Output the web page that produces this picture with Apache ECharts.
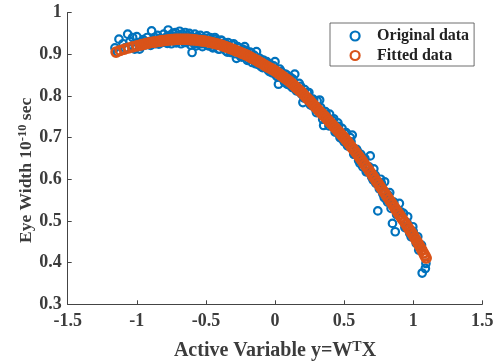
<!DOCTYPE html>
<html>
<head>
<meta charset="utf-8">
<script src="https://cdn.jsdelivr.net/npm/echarts@6/dist/echarts.min.js"></script>
<style>html,body{margin:0;padding:0;background:#fff}#c{width:503px;height:362px}</style>
</head>
<body>
<div id="c"></div>
<script>
const xTicks = [-1.5, -1, -0.5, 0, 0.5, 1, 1.5];
const yTicks = [0.3, 0.4, 0.5, 0.6, 0.7, 0.8, 0.9, 1];

const origX = [-1.158,-1.14,-1.129,-1.10,-1.085,-1.066,-1.05,-1.03,-1.015,-1.0,-0.985,-0.97,-0.954,-0.94,-0.925,-0.91,-0.893,-0.88,-0.865,-0.85,-0.835,-0.82,-0.805,-0.79,-0.773,-0.76,-0.75,-0.74,-0.73,-0.72,-0.71,-0.70,-0.69,-0.68,-0.67,-0.66,-0.65,-0.64,-0.63,-0.62,-0.61,-0.60,-0.59,-0.58,-0.57,-0.56,-0.55,-0.54,-0.525,-0.51,-0.495,-0.48,-0.465,-0.45,-0.435,-0.42,-0.40,-0.385,-0.37,-0.355,-0.34,-0.32,-0.30,-0.279,-0.27,-0.25,-0.235,-0.219,-0.20,-0.18,-0.165,-0.15,-0.134,-0.12,-0.10,-0.085,-0.07,-0.05,-0.035,-0.02,0.0,0.01,0.025,0.045,0.06,0.075,0.09,0.11,0.125,0.143,0.16,0.175,0.19,0.202,0.215,0.23,0.245,0.26,0.275,0.29,0.305,0.323,0.335,0.352,0.365,0.38,0.395,0.41,0.425,0.44,0.455,0.47,0.485,0.50,0.515,0.53,0.545,0.559,0.575,0.59,0.605,0.62,0.635,0.65,0.665,0.689,0.70,0.715,0.73,0.744,0.765,0.78,0.793,0.805,0.815,0.83,0.85,0.87,0.877,0.89,0.90,0.915,0.93,0.945,0.96,0.975,0.997,1.01,1.022,1.033,1.045,1.065,1.088,1.092,
  -0.49,-0.47,-0.455,-0.44,-0.41,-0.39,-0.36,-0.345,-0.31,-0.29,-0.26,-0.24,-0.21,-0.19,-0.17,-0.14,-0.11,-0.09,-0.06,-0.04,-0.01,0.02,0.035,0.07,0.085,0.105,0.13,0.155,0.185,0.21,0.235,0.255,0.28,0.30,0.33,0.345,0.37,0.39,0.415,0.435,0.46,0.48,0.505,0.525,0.55,0.57,0.595,0.615,0.64,0.66,0.68,0.71,0.725,0.755,0.77,0.79,0.82,0.84,0.86,0.88,0.91,0.94,0.955,0.985,1.0,1.04,1.06,
  -0.98,-0.96,-0.90,-0.87,-0.84,-0.78,-0.745,-0.715,-0.655,-0.625,-0.585,-0.545,-0.53];
const origY = [0.915,0.905,0.936,0.925,0.915,0.948,0.930,0.940,0.912,0.942,0.928,0.918,0.935,0.922,0.940,0.930,0.956,0.935,0.925,0.945,0.938,0.928,0.948,0.940,0.958,0.945,0.925,0.950,0.940,0.952,0.930,0.945,0.955,0.925,0.948,0.940,0.952,0.928,0.945,0.950,0.922,0.904,0.940,0.948,0.920,0.942,0.925,0.945,0.918,0.938,0.944,0.920,0.935,0.915,0.940,0.930,0.912,0.932,0.925,0.908,0.928,0.904,0.925,0.890,0.918,0.895,0.912,0.918,0.885,0.905,0.880,0.897,0.906,0.875,0.870,0.886,0.880,0.862,0.876,0.855,0.882,0.848,0.828,0.858,0.840,0.852,0.828,0.845,0.820,0.852,0.818,0.830,0.805,0.784,0.815,0.795,0.808,0.778,0.792,0.770,0.788,0.790,0.760,0.729,0.762,0.742,0.756,0.728,0.745,0.715,0.735,0.700,0.722,0.690,0.712,0.680,0.700,0.706,0.660,0.672,0.645,0.660,0.630,0.650,0.618,0.656,0.605,0.625,0.590,0.524,0.600,0.565,0.594,0.552,0.545,0.568,0.494,0.474,0.530,0.520,0.542,0.505,0.518,0.485,0.510,0.470,0.486,0.458,0.446,0.462,0.440,0.375,0.386,0.398,
  0.921,0.940,0.918,0.936,0.912,0.934,0.927,0.905,0.922,0.901,0.915,0.893,0.909,0.887,0.902,0.877,0.890,0.868,0.882,0.858,0.872,0.845,0.864,0.832,0.850,0.826,0.840,0.812,0.823,0.795,0.808,0.779,0.790,0.760,0.772,0.744,0.756,0.728,0.741,0.713,0.727,0.698,0.710,0.680,0.690,0.660,0.668,0.638,0.648,0.618,0.630,0.598,0.610,0.577,0.590,0.556,0.562,0.530,0.545,0.515,0.522,0.484,0.496,0.462,0.475,0.430,0.442,
  0.912,0.930,0.921,0.940,0.924,0.926,0.944,0.927,0.928,0.941,0.925,0.938,0.925];

const fitX = [-1.15,-1.12,-1.09,-1.06,-1.03,-1.0,-0.975,-0.9625,-0.95,-0.9375,-0.925,-0.9125,-0.9,-0.8875,-0.875,-0.8625,-0.85,-0.8375,-0.825,-0.8125,-0.8,-0.7875,-0.775,-0.7625,-0.75,-0.7375,-0.725,-0.7125,-0.7,-0.6875,-0.675,-0.6625,-0.65,-0.6375,-0.625,-0.6125,-0.6,-0.5875,-0.575,-0.5625,-0.55,-0.5375,-0.525,-0.5125,-0.5,-0.4875,-0.475,-0.4625,-0.45,-0.4375,-0.425,-0.4125,-0.4,-0.3875,-0.375,-0.3625,-0.35,-0.3375,-0.325,-0.3125,-0.3,-0.2875,-0.275,-0.2625,-0.25,-0.2375,-0.225,-0.2125,-0.2,-0.1875,-0.175,-0.1625,-0.15,-0.1375,-0.125,-0.1125,-0.1,-0.0875,-0.075,-0.0625,-0.05,-0.0375,-0.025,-0.0125,0,0.0125,0.025,0.0375,0.05,0.0625,0.075,0.0875,0.1,0.1125,0.125,0.1375,0.15,0.1625,0.175,0.1875,0.2,0.2125,0.225,0.2375,0.25,0.2625,0.275,0.2875,0.3,0.3125,0.325,0.3375,0.35,0.3625,0.375,0.3875,0.4,0.4125,0.425,0.4375,0.45,0.4625,0.475,0.4875,0.5,0.5125,0.525,0.5375,0.55,0.5625,0.575,0.5875,0.6,0.6125,0.625,0.6375,0.65,0.6625,0.675,0.6875,0.7,0.7125,0.725,0.7375,0.75,0.7625,0.775,0.7875,0.8,0.8125,0.825,0.8375,0.85,0.8625,0.875,0.8875,0.9,0.9125,0.925,0.9375,0.95,0.9625,0.975,0.9875,1.0,1.0125,1.025,1.0375,1.05,1.0625,1.075,1.085,1.094];
const fitY = [0.905,0.909,0.912,0.915,0.9175,0.920,0.922,0.923,0.924,0.925,0.926,0.927,0.928,0.9285,0.929,0.930,0.9305,0.931,0.932,0.9325,0.933,0.9335,0.934,0.9345,0.935,0.935,0.9355,0.936,0.936,0.936,0.936,0.936,0.936,0.936,0.9355,0.935,0.935,0.9345,0.934,0.9335,0.933,0.9325,0.932,0.9315,0.931,0.930,0.929,0.928,0.927,0.926,0.925,0.924,0.923,0.9215,0.920,0.9185,0.917,0.9155,0.914,0.9125,0.911,0.909,0.9075,0.906,0.904,0.902,0.9005,0.899,0.897,0.895,0.8925,0.890,0.888,0.886,0.8835,0.881,0.879,0.8765,0.874,0.8715,0.869,0.867,0.865,0.8625,0.860,0.857,0.854,0.851,0.848,0.845,0.842,0.839,0.836,0.8325,0.829,0.825,0.821,0.8175,0.814,0.810,0.806,0.8015,0.797,0.793,0.789,0.7845,0.780,0.7755,0.771,0.7665,0.762,0.758,0.754,0.7495,0.745,0.7405,0.736,0.7315,0.727,0.7225,0.718,0.7135,0.709,0.7045,0.700,0.695,0.690,0.6845,0.679,0.674,0.669,0.6635,0.658,0.6525,0.647,0.641,0.635,0.6295,0.624,0.618,0.612,0.606,0.600,0.594,0.588,0.582,0.576,0.570,0.564,0.558,0.552,0.546,0.540,0.5335,0.527,0.521,0.515,0.509,0.503,0.497,0.491,0.4845,0.478,0.472,0.466,0.459,0.452,0.445,0.438,0.4305,0.423,0.417,0.411];

const seriesNames = ['Original data', 'Fitted data'];
const colors = ['#0072BD', '#D95319'];

const FONT = 'Liberation Serif';
const TXT = '#3c3c3c';

const chart = echarts.init(document.getElementById('c'), null, {renderer: 'canvas'});
const mk = (xs, ys) => xs.map((x, i) => [x, ys[i]]);

chart.setOption({
  animation: false,
  backgroundColor: '#fff',
  grid: {left: 67.7, right: 20.7, top: 12.5, bottom: 57.7, containLabel: false, outerBoundsMode: 'none'},
  legend: {
    orient: 'vertical',
    left: 330, top: 23,
    padding: [5, 5, 2.5, 19.5],
    itemWidth: 34, itemHeight: 9, itemGap: 3.5,
    borderColor: '#4a4a4a', borderWidth: 0.8,
    backgroundColor: '#fff',
    textStyle: {fontFamily: FONT, fontWeight: 'bold', fontSize: 16, color: '#222', lineHeight: 16},
    itemStyle: {borderWidth: 2.2, color: 'rgba(0,0,0,0)'},
    data: seriesNames
  },
  xAxis: {
    type: 'value', min: xTicks[0], max: xTicks[xTicks.length - 1], interval: 0.5,
    name: 'Active Variable y=W{sup|T}X', nameLocation: 'middle', nameGap: 36, nameMoveOverlap: false,
    nameTextStyle: {fontFamily: FONT, fontWeight: 'bold', fontSize: 20, color: TXT, lineHeight: 21,
      rich: {sup: {fontFamily: FONT, fontWeight: 'bold', fontSize: 14, lineHeight: 14, verticalAlign: 'top', color: TXT}}},
    axisLine: {show: true, onZero: false, lineStyle: {color: '#444', width: 1}},
    axisTick: {show: true, inside: true, length: 4, lineStyle: {color: '#444'}},
    axisLabel: {fontFamily: FONT, fontWeight: 'bold', fontSize: 18, color: TXT, margin: 8},
    splitLine: {show: false}
  },
  yAxis: {
    type: 'value', min: yTicks[0], max: yTicks[yTicks.length - 1], interval: 0.1,
    name: 'Eye Width 10{sup|-10} sec', nameLocation: 'middle', nameGap: 32, nameRotate: 90, nameMoveOverlap: false,
    nameTextStyle: {fontFamily: FONT, fontWeight: 'bold', fontSize: 17.5, color: TXT, lineHeight: 19, padding: [0, 24, 0, 0],
      rich: {sup: {fontFamily: FONT, fontWeight: 'bold', fontSize: 12.5, lineHeight: 12.5, verticalAlign: 'top', color: TXT}}},
    axisLine: {show: true, onZero: false, lineStyle: {color: '#444', width: 1}},
    axisTick: {show: true, inside: true, length: 4, lineStyle: {color: '#444'}},
    axisLabel: {fontFamily: FONT, fontWeight: 'bold', fontSize: 18, color: TXT, margin: 6,
      formatter: v => String(Math.round(v * 10) / 10)},
    splitLine: {show: false}
  },
  series: [
    {name: seriesNames[0], type: 'scatter', data: mk(origX, origY), symbol: 'circle', symbolSize: 7.5,
     itemStyle: {color: 'rgba(0,0,0,0)', borderColor: colors[0], borderWidth: 2.2, opacity: 1}, z: 2},
    {name: seriesNames[1], type: 'scatter', data: mk(fitX, fitY), symbol: 'circle', symbolSize: 9,
     itemStyle: {color: 'rgba(0,0,0,0)', borderColor: colors[1], borderWidth: 2.6, opacity: 1}, z: 3}
  ]
});
</script>
</body>
</html>
